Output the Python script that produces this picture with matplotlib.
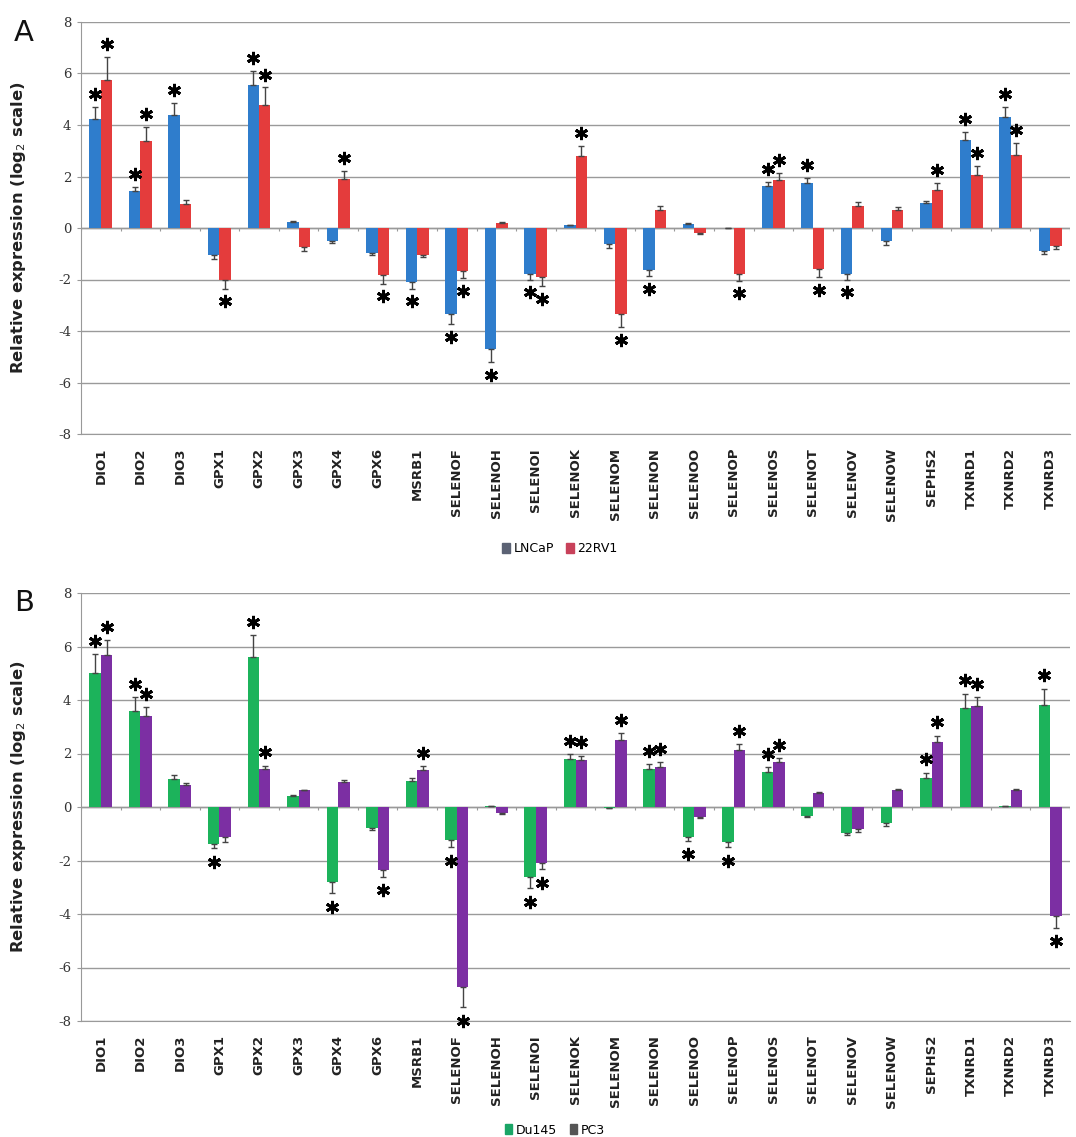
import matplotlib
matplotlib.use("Agg")
import matplotlib.pyplot as plt
import matplotlib.patches as mpatches
import numpy as np

genes = ["DIO1", "DIO2", "DIO3", "GPX1", "GPX2", "GPX3", "GPX4", "GPX6", "MSRB1",
         "SELENOF", "SELENOH", "SELENOI", "SELENOK", "SELENOM", "SELENON", "SELENOO",
         "SELENOP", "SELENOS", "SELENOT", "SELENOV", "SELENOW", "SEPHS2",
         "TXNRD1", "TXNRD2", "TXNRD3"]

# Panel A
lncap = [4.24, 1.44, 4.40, -1.04, 5.55, 0.23, -0.52, -0.98, -2.09, -3.33, -4.70, -1.80, 0.10,
         -0.61, -1.65, 0.15, 0.0, 1.65, 1.74, -1.78, -0.52, 0.99, 3.42, 4.32, -0.88]
lncap_err = [0.45, 0.16, 0.45, 0.17, 0.55, 0.04, 0.05, 0.05, 0.26, 0.40, 0.52, 0.20, 0.02,
             0.17, 0.22, 0.03, 0.0, 0.15, 0.19, 0.22, 0.13, 0.05, 0.32, 0.39, 0.13]
rv22 = [5.74, 3.39, 0.94, -2.02, 4.79, -0.72, 1.89, -1.83, -1.04, -1.67, 0.18, -1.91, 2.78,
        -3.33, 0.71, -0.19, -1.78, 1.87, -1.59, 0.84, 0.68, 1.48, 2.06, 2.84, -0.68]
rv22_err = [0.89, 0.55, 0.16, 0.33, 0.67, 0.17, 0.33, 0.33, 0.10, 0.26, 0.04, 0.35, 0.39,
            0.52, 0.13, 0.04, 0.26, 0.26, 0.30, 0.17, 0.12, 0.26, 0.35, 0.45, 0.15]
lncap_sig = [1, 1, 1, 0, 1, 0, 0, 0, 1, 1, 1, 1, 0, 0, 1, 0, 0, 1, 1, 1, 0, 0, 1, 1, 0]
rv22_sig = [1, 1, 0, 1, 1, 0, 1, 1, 0, 1, 0, 1, 1, 1, 0, 0, 1, 1, 1, 0, 0, 1, 1, 1, 0]

# Panel B
du145 = [5.00, 3.59, 1.03, -1.38, 5.59, 0.40, -2.80, -0.80, 0.97, -1.25, 0.02, -2.62, 1.79,
         -0.03, 1.41, -1.12, -1.31, 1.31, -0.35, -0.96, -0.58, 1.10, 3.69, 0.02, 3.82]
du145_err = [0.71, 0.52, 0.17, 0.17, 0.84, 0.03, 0.43, 0.06, 0.10, 0.26, 0.0, 0.42, 0.19,
             0.0, 0.19, 0.15, 0.19, 0.18, 0.04, 0.09, 0.13, 0.18, 0.54, 0.0, 0.60]
pc3 = [5.68, 3.39, 0.81, -1.12, 1.42, 0.62, 0.94, -2.35, 1.37, -6.74, -0.22, -2.10, 1.77,
       2.51, 1.51, -0.38, 2.12, 1.68, 0.51, -0.82, 0.64, 2.44, 3.76, 0.62, -4.06]
pc3_err = [0.55, 0.35, 0.09, 0.17, 0.13, 0.03, 0.06, 0.26, 0.15, 0.75, 0.04, 0.23, 0.15,
           0.24, 0.17, 0.04, 0.23, 0.15, 0.04, 0.10, 0.04, 0.23, 0.35, 0.04, 0.45]
du145_sig = [1, 1, 0, 1, 1, 0, 1, 0, 0, 1, 0, 1, 1, 0, 1, 1, 1, 1, 0, 0, 0, 1, 1, 0, 1]
pc3_sig = [1, 1, 0, 0, 1, 0, 0, 1, 1, 1, 0, 1, 1, 1, 1, 0, 1, 1, 0, 0, 0, 1, 1, 0, 1]

BLUE, RED = "#2f7dcc", "#e43c3c"
GREEN, PURPLE = "#1cb35b", "#7c2fa3"

fig = plt.figure(figsize=(10.76, 11.37), dpi=100)
axA = fig.add_axes([81/1076, 1-434/1137, 989/1076, 412/1137])
axB = fig.add_axes([81/1076, 1-1021/1137, 989/1076, 428/1137])

W = 0.29
STAR_OFF = 0.5


def draw(ax, s1, e1, sig1, c1, s2, e2, sig2, c2):
    x = np.arange(len(genes))
    for vals, errs, sig, col, off in ((s1, e1, sig1, c1, -W/2), (s2, e2, sig2, c2, W/2)):
        vals = np.array(vals)
        errs = np.array(errs)
        pos = vals >= 0
        yerr = np.vstack([np.where(pos, 0, errs), np.where(pos, errs, 0)])
        ax.bar(x + off, vals, width=W, color=col, zorder=3)
        ax.errorbar(x + off, vals, yerr=yerr, fmt="none", ecolor="#444444",
                    elinewidth=1.0, capsize=2.5, capthick=1.0, zorder=4)
        sig = np.array(sig, dtype=bool)
        sy = vals + np.where(pos, 1, -1) * (errs + STAR_OFF)
        ax.plot((x + off)[sig], sy[sig], linestyle="none", marker=(6, 2, 0),
                ms=9.5, mew=2.1, color="black", zorder=5, clip_on=False)
    ax.set_xlim(-0.5, len(genes) - 0.5)
    ax.set_ylim(-8, 8)
    ax.set_yticks(np.arange(-8, 9, 2))
    ax.set_yticklabels([str(v) for v in range(-8, 9, 2)], fontfamily="DejaVu Serif",
                       fontsize=9.5, color="#333333")
    ax.yaxis.grid(True, color="#9a9a9a", lw=1.0, zorder=0)
    ax.tick_params(axis="y", length=3, color="#999999", pad=4)
    ax.set_xticks(x)
    ax.set_xticklabels(genes, rotation=90, fontsize=9.5, fontweight="bold",
                       color="#222222")
    ax.tick_params(axis="x", length=0, pad=10)
    for s in ("top", "right"):
        ax.spines[s].set_visible(False)
    ax.spines["left"].set_color("#999999")
    ax.spines["bottom"].set_color("#9a9a9a")
    ax.axhline(0, color="#999999", lw=1.0, zorder=2)
    bounds = np.arange(len(genes) + 1) - 0.5
    ax.vlines(bounds, -0.13, 0, color="#999999", lw=0.8, zorder=2)
    ax.set_ylabel("Relative expression (log$_2$ scale)", fontsize=11.8,
                  fontweight="bold", color="#222222")


draw(axA, lncap, lncap_err, lncap_sig, BLUE, rv22, rv22_err, rv22_sig, RED)
draw(axB, du145, du145_err, du145_sig, GREEN, pc3, pc3_err, pc3_sig, PURPLE)

axA.yaxis.set_label_coords(-0.054, 0.5)
axB.yaxis.set_label_coords(-0.054, 0.5)

fig.text(14/1076, 1-33/1137, "A", fontsize=21, color="#111111", va="center")
fig.text(14/1076, 1-603/1137, "B", fontsize=21, color="#111111", va="center")

hA = [mpatches.Patch(color="#5b6274", label="LNCaP"),
      mpatches.Patch(color="#c8415a", label="22RV1")]
fig.legend(handles=hA, loc="center", bbox_to_anchor=(560/1076, 1-549/1137), ncol=2,
           frameon=False, fontsize=9, handlelength=0.6, handleheight=0.8,
           handletextpad=0.3, columnspacing=1.0)
hB = [mpatches.Patch(color="#1aa566", label="Du145"),
      mpatches.Patch(color="#555555", label="PC3")]
fig.legend(handles=hB, loc="center", bbox_to_anchor=(555/1076, 1-1130/1137), ncol=2,
           frameon=False, fontsize=9, handlelength=0.6, handleheight=0.8,
           handletextpad=0.3, columnspacing=1.0)

fig.savefig("out.png", dpi=100, facecolor="white")
